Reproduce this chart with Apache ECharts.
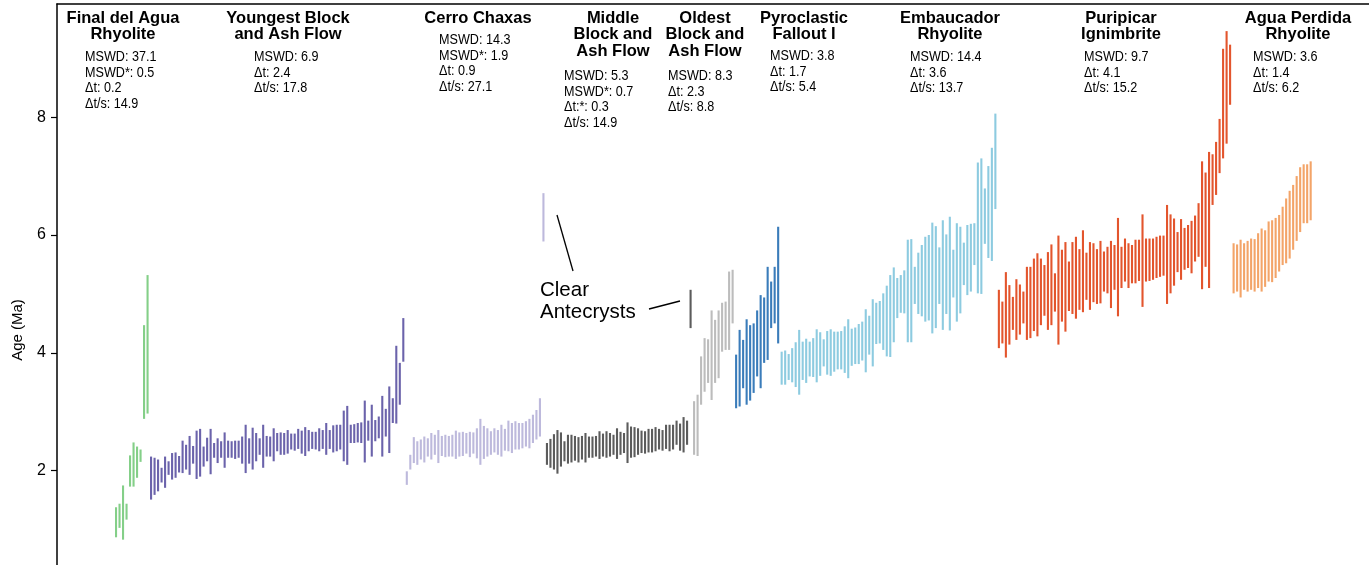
<!DOCTYPE html>
<html><head><meta charset="utf-8">
<script src="https://cdn.jsdelivr.net/npm/echarts@6/dist/echarts.min.js"></script>
<style>html,body{margin:0;padding:0;background:#fff}#c{width:1369px;height:565px}</style>
</head><body><div id="c"></div><script>
// ---------- DATA (Age, Ma: upper / lower end of each grain's uncertainty bar) ----------
const finalDelAguaHigh = [1.38,1.44,1.75,1.44,2.26,2.48,2.41,2.36,4.47,5.32];
const finalDelAguaLow  = [0.87,1.03,0.83,1.17,1.73,1.73,1.88,2.15,2.88,2.97];

const youngestHigh = [2.24,2.22,2.19,2.05,2.24,2.16,2.30,2.31,2.25,2.51,2.44,2.59,2.42,2.68,2.71,2.41,2.56,2.71,2.47,2.55,
  2.50,2.65,2.51,2.50,2.51,2.51,2.58,2.78,2.55,2.73,2.64,2.55,2.78,2.59,2.58,2.72,2.64,2.65,
  2.64,2.69,2.63,2.63,2.71,2.68,2.74,2.69,2.66,2.66,2.72,2.69,2.81,2.69,2.77,2.78,2.78,3.02,3.10,2.78,2.79,2.81,
  2.82,3.19,2.85,3.12,2.86,2.92,3.27,3.05,3.43,3.23,4.12,3.83,4.59];
const youngestLow  = [1.51,1.59,1.65,1.80,1.71,1.93,1.85,1.88,1.97,1.96,2.02,1.93,2.12,1.86,1.90,2.07,2.16,1.94,2.22,2.13,
  2.22,2.05,2.22,2.22,2.20,2.22,2.12,1.96,2.12,2.02,2.16,2.27,2.05,2.24,2.24,2.16,2.33,2.27,
  2.27,2.29,2.36,2.34,2.37,2.29,2.25,2.33,2.37,2.36,2.33,2.37,2.27,2.37,2.31,2.33,2.36,2.16,2.10,2.47,2.47,2.48,
  2.47,2.14,2.51,2.24,2.50,2.55,2.24,2.58,2.30,2.81,2.80,3.12,3.85];

const cerroChaxasHigh = [1.99,2.27,2.57,2.50,2.53,2.58,2.55,2.64,2.61,2.69,2.59,2.61,2.59,2.61,2.68,2.65,2.66,2.64,2.66,2.65,
  2.72,2.88,2.76,2.72,2.67,2.72,2.69,2.78,2.71,2.85,2.81,2.84,2.81,2.81,2.84,2.88,2.95,3.03,3.23];
const cerroChaxasLow  = [1.76,2.02,2.13,2.10,2.19,2.14,2.24,2.19,2.27,2.13,2.25,2.23,2.24,2.24,2.20,2.24,2.25,2.29,2.23,2.29,
  2.21,2.10,2.20,2.24,2.27,2.31,2.27,2.24,2.34,2.33,2.30,2.36,2.36,2.38,2.41,2.38,2.47,2.53,2.58];
const cerroChaxasAntecrystHigh = [6.71];
const cerroChaxasAntecrystLow  = [5.89];

const middleHigh = [2.47,2.54,2.62,2.69,2.65,2.50,2.61,2.61,2.59,2.57,2.59,2.64,2.58,2.58,2.59,2.67,2.63,2.67,2.64,2.61,
  2.72,2.66,2.64,2.82,2.75,2.74,2.72,2.68,2.67,2.71,2.71,2.74,2.71,2.69,2.78,2.78,2.78,2.85,2.80,2.91,2.85];
const middleLow  = [2.10,2.05,2.02,1.95,2.07,2.16,2.12,2.14,2.17,2.14,2.19,2.14,2.22,2.22,2.24,2.20,2.24,2.22,2.24,2.27,
  2.20,2.27,2.30,2.13,2.22,2.23,2.27,2.30,2.29,2.31,2.31,2.33,2.36,2.34,2.37,2.33,2.36,2.44,2.34,2.31,2.44];
const middleAntecrystHigh = [5.07];
const middleAntecrystLow  = [4.42];

const oldestHigh = [3.18,3.29,3.94,4.25,4.23,4.72,4.56,4.72,4.85,4.87,5.38,5.41];
const oldestLow  = [2.27,2.25,3.12,3.34,3.49,3.20,3.49,3.57,4.02,4.05,4.05,4.50];

const pyroclasticHigh = [3.97,4.39,4.22,4.57,4.47,4.50,4.72,4.98,4.94,5.46,5.21,5.46,6.14];
const pyroclasticLow  = [3.06,3.09,3.40,3.12,3.19,3.32,3.60,3.40,3.83,3.88,4.42,4.50,4.16];

const embaucadorHigh = [4.02,4.04,3.98,4.08,4.18,4.39,4.19,4.24,4.19,4.25,4.40,4.35,4.23,4.37,4.40,4.36,4.36,4.37,4.45,4.57,
  4.41,4.43,4.49,4.53,4.74,4.63,4.91,4.85,4.88,5.01,5.14,5.32,5.45,5.27,5.32,5.40,5.92,5.93,5.46,5.70,
  5.83,5.97,6.00,6.21,6.15,5.79,6.25,6.01,6.31,5.75,6.20,6.14,5.87,6.17,6.19,6.20,7.23,7.30,6.79,7.17,7.48,8.06];
const embaucadorLow  = [3.46,3.46,3.54,3.50,3.42,3.29,3.54,3.49,3.60,3.59,3.50,3.61,3.77,3.63,3.61,3.68,3.72,3.72,3.66,3.57,
  3.78,3.81,3.81,3.87,3.67,3.97,3.77,4.15,4.16,4.05,3.94,3.93,4.18,4.59,4.68,4.67,4.18,4.18,4.83,4.66,
  4.62,4.53,4.55,4.33,4.42,4.83,4.39,4.66,4.38,4.94,4.53,4.67,5.15,4.98,5.04,5.49,5.01,5.00,5.85,5.61,5.56,6.44];

const puripicarHigh = [5.07,4.87,5.37,5.15,4.95,5.25,5.16,5.04,5.46,5.46,5.60,5.69,5.60,5.49,5.71,5.84,5.35,5.99,5.75,5.88,
  5.55,5.88,5.97,5.76,6.08,5.70,5.88,5.86,5.76,5.90,5.72,5.80,5.90,5.83,6.29,5.80,5.94,5.86,5.83,5.92,
  5.92,6.35,5.94,5.94,5.94,5.97,5.99,5.99,6.51,6.35,6.28,6.05,6.27,6.12,6.17,6.24,6.33,6.54,7.25,7.06,
  7.41,7.37,7.58,7.97,9.16,9.46,9.23];
const puripicarLow  = [4.08,4.16,3.92,4.14,4.39,4.22,4.31,4.50,4.22,4.25,4.37,4.28,4.47,4.63,4.39,4.47,4.70,4.14,4.53,4.36,
  4.71,4.66,4.58,4.73,4.69,4.90,4.73,4.86,4.83,4.84,5.04,5.01,4.76,5.07,4.62,5.10,5.21,5.10,5.18,5.18,
  5.22,4.78,5.21,5.22,5.24,5.27,5.29,5.31,4.83,5.01,5.14,5.37,5.24,5.41,5.44,5.35,5.55,5.63,5.08,5.46,
  5.10,6.51,6.68,7.05,7.30,7.55,8.21];

const aguaPerdidaHigh = [5.86,5.84,5.92,5.86,5.90,5.94,5.93,6.03,6.11,6.08,6.23,6.25,6.29,6.34,6.48,6.62,6.75,6.85,7.00,7.15,7.20,7.20,7.25];
const aguaPerdidaLow  = [5.01,5.04,4.94,5.07,5.04,5.07,5.04,5.10,5.04,5.12,5.21,5.20,5.27,5.38,5.49,5.52,5.60,5.75,5.90,6.05,6.20,6.20,6.25];

const yTicks = [2, 4, 6, 8];

const unitTitles = ['Final del Agua\nRhyolite','Youngest Block\nand Ash Flow','Cerro Chaxas','Middle\nBlock and\nAsh Flow',
  'Oldest\nBlock and\nAsh Flow','Pyroclastic\nFallout I','Embaucador\nRhyolite','Puripicar\nIgnimbrite','Agua Perdida\nRhyolite'];
const unitStats = [
  ['MSWD: 37.1','MSWD*: 0.5','Δt: 0.2','Δt/s: 14.9'],
  ['MSWD: 6.9','Δt: 2.4','Δt/s: 17.8'],
  ['MSWD: 14.3','MSWD*: 1.9','Δt: 0.9','Δt/s: 27.1'],
  ['MSWD: 5.3','MSWD*: 0.7','Δt:*: 0.3','Δt/s: 14.9'],
  ['MSWD: 8.3','Δt: 2.3','Δt/s: 8.8'],
  ['MSWD: 3.8','Δt: 1.7','Δt/s: 5.4'],
  ['MSWD: 14.4','Δt: 3.6','Δt/s: 13.7'],
  ['MSWD: 9.7','Δt: 4.1','Δt/s: 15.2'],
  ['MSWD: 3.6','Δt: 1.4','Δt/s: 6.2']
];

// ---------- BUILD ----------
const groups = [
  {hi: finalDelAguaHigh, lo: finalDelAguaLow, color: '#84cf88'},
  {hi: youngestHigh, lo: youngestLow, color: '#6b63ab'},
  {hi: cerroChaxasHigh, lo: cerroChaxasLow, color: '#bdb9dc'},
  {hi: cerroChaxasAntecrystHigh, lo: cerroChaxasAntecrystLow, color: '#bdb9dc'},
  {hi: middleHigh, lo: middleLow, color: '#5c5c5c'},
  {hi: middleAntecrystHigh, lo: middleAntecrystLow, color: '#5c5c5c'},
  {hi: oldestHigh, lo: oldestLow, color: '#bcbcbc'},
  {hi: pyroclasticHigh, lo: pyroclasticLow, color: '#3a7cba'},
  {hi: embaucadorHigh, lo: embaucadorLow, color: '#8dcbe0'},
  {hi: puripicarHigh, lo: puripicarLow, color: '#e3552d'},
  {hi: aguaPerdidaHigh, lo: aguaPerdidaLow, color: '#f3a468'}
];
let idx = 0;
const series = groups.map(g => {
  const data = g.hi.map((h, i) => [idx++, g.lo[i], h]);
  return {
    type: 'custom', silent: true, data: data,
    encode: {x: 0, y: [1, 2]},
    renderItem: (params, api) => {
      const x = api.value(0);
      const p1 = api.coord([x, api.value(2)]);
      const p2 = api.coord([x, api.value(1)]);
      return {type: 'line', shape: {x1: p1[0], y1: p1[1], x2: p2[0], y2: p2[1]},
        style: {stroke: g.color, lineWidth: 2.1}};
    }
  };
});

const FONT = '"Liberation Sans", Arial, Helvetica, sans-serif';
const titlePos = [[123,10],[288,10],[478,10],[613,10],[705,10],[804,10],[950,10],[1121,10],[1298,10]];
const statsPos = [[85,49],[254,49],[439,32],[564,68],[668,68],[770,48],[910,49],[1084,49],[1253,49]];
const graphics = [];
unitTitles.forEach((t, i) => {
  graphics.push({type: 'text', x: titlePos[i][0], y: titlePos[i][1], silent: true,
    style: {text: t, font: 'bold 16.5px ' + FONT, fill: '#000', textAlign: 'center', textVerticalAlign: 'top', lineHeight: 16.5}});
  graphics.push({type: 'text', x: statsPos[i][0], y: statsPos[i][1], silent: true, scaleX: 0.9,
    style: {text: unitStats[i].join('\n'), font: '14px ' + FONT, fill: '#000', textAlign: 'left', textVerticalAlign: 'top', lineHeight: 15.8}});
});
graphics.push({type: 'text', x: 18, y: 330, rotation: Math.PI / 2, silent: true,
  style: {text: 'Age (Ma)', font: '15px ' + FONT, fill: '#000', textAlign: 'center', textVerticalAlign: 'middle'}});
graphics.push({type: 'text', x: 540, y: 279, silent: true,
  style: {text: 'Clear\nAntecrysts', font: '20.5px ' + FONT, fill: '#000', textAlign: 'left', textVerticalAlign: 'top', lineHeight: 22}});
graphics.push({type: 'line', silent: true, shape: {x1: 557, y1: 215, x2: 573, y2: 271}, style: {stroke: '#000', lineWidth: 1.3}});
graphics.push({type: 'line', silent: true, shape: {x1: 649, y1: 309, x2: 680, y2: 301}, style: {stroke: '#000', lineWidth: 1.3}});

const chart = echarts.init(document.getElementById('c'), null, {renderer: 'canvas'});
chart.setOption({
  animation: false,
  backgroundColor: '#fff',
  grid: {left: 57, right: 0, top: 4, bottom: 0, containLabel: false},
  xAxis: {type: 'value', min: -16.85, max: 357.65, position: 'top',
    axisLine: {show: true, onZero: false, lineStyle: {color: '#000', width: 1.5}},
    axisTick: {show: false}, axisLabel: {show: false}, splitLine: {show: false}},
  yAxis: {type: 'value', min: 0.4, max: 9.92,
    axisLine: {show: true, onZero: false, lineStyle: {color: '#000', width: 1.5}},
    axisTick: {show: true, length: 6, customValues: yTicks, lineStyle: {color: '#000', width: 1.2}},
    axisLabel: {show: true, customValues: yTicks, color: '#000', fontSize: 16, margin: 11, fontFamily: FONT},
    splitLine: {show: false}},
  series: series,
  graphic: graphics
});
</script></body></html>
